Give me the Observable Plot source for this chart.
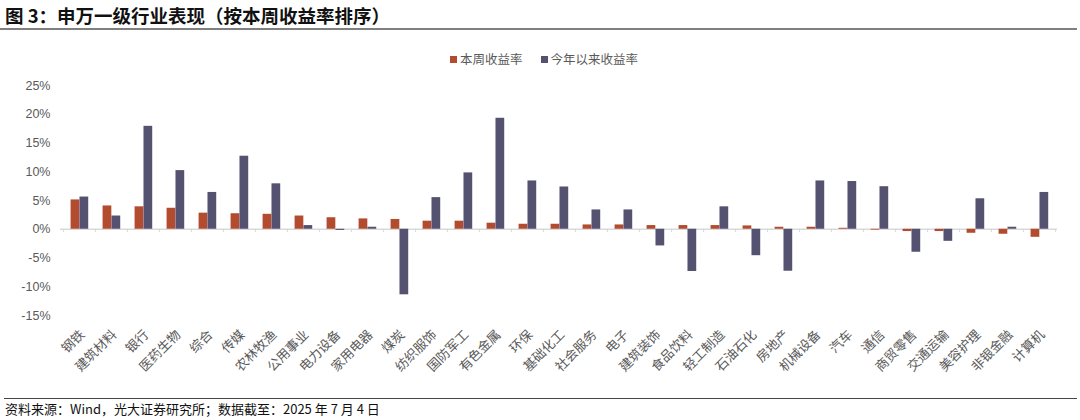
<!DOCTYPE html>
<html>
<head>
<meta charset="utf-8">
<script src="https://cdn.jsdelivr.net/npm/d3@7"></script>
<script src="https://cdn.jsdelivr.net/npm/@observablehq/plot@0.6"></script>
<style>
  html, body { margin: 0; padding: 0; background: #fff; }
  body { width: 1080px; height: 420px; overflow: hidden; font-family: "Liberation Sans", "Noto Sans CJK SC", sans-serif; }
  #title { height: 28px; line-height: 30px; padding-left: 5px; font-family: "Noto Sans CJK SC", sans-serif; font-weight: bold; font-size: 18.5px; color: #111; border-bottom: 2px solid #808080; margin: 0 3px 0 0; box-sizing: content-box; }
  #legend { height: 22px; padding-top: 20px; padding-left: 8px; line-height: 18px; text-align: center; font-family: "Noto Sans CJK SC", sans-serif; font-size: 12.5px; color: #595959; }
  #legend span.item { display: inline-block; margin: 0 9px; }
  #legend span.sw { display: inline-block; width: 7px; height: 7px; margin-right: 3px; vertical-align: 1px; }
  #chart { height: 326px; }
  #caption { border-top: 1.5px solid #444; margin: 0 3px 0 4px; padding-left: 1px; line-height: 20px; font-family: "Noto Sans CJK SC", sans-serif; font-size: 13px; color: #111; }
</style>
</head>
<body>
<div id="title">图 3：申万一级行业表现（按本周收益率排序）</div>
<div id="legend"></div>
<div id="chart"></div>
<div id="caption">资料来源：Wind，光大证券研究所；数据截至：2025 年 7 月 4 日</div>
<script>
const categories = ["钢铁","建筑材料","银行","医药生物","综合","传媒","农林牧渔","公用事业","电力设备","家用电器","煤炭","纺织服饰","国防军工","有色金属","环保","基础化工","社会服务","电子","建筑装饰","食品饮料","轻工制造","石油石化","房地产","机械设备","汽车","通信","商贸零售","交通运输","美容护理","非银金融","计算机"];
const weekReturn = [5.1,4.05,3.9,3.65,2.8,2.7,2.6,2.3,2.0,1.8,1.7,1.4,1.4,1.05,0.87,0.87,0.75,0.75,0.64,0.64,0.64,0.58,0.35,0.35,0.17,-0.15,-0.4,-0.4,-0.7,-0.87,-1.4];
const ytdReturn = [5.6,2.3,17.9,10.2,6.4,12.7,7.9,0.64,-0.2,0.35,-11.4,5.5,9.8,19.3,8.4,7.35,3.36,3.36,-2.9,-7.35,3.9,-4.6,-7.3,8.4,8.3,7.4,-4.0,-2.1,5.3,0.35,6.4];
const seriesNames = ["本周收益率","今年以来收益率"];
const seriesColors = ["#B34B2E","#555171"];
const yTicks = [-15,-10,-5,0,5,10,15,20,25];

const rows = categories.map((c, i) => ({cat: c, week: weekReturn[i], ytd: ytdReturn[i]}));

// legend
const lg = document.getElementById("legend");
seriesNames.forEach((n, i) => {
  const s = document.createElement("span");
  s.className = "item";
  s.innerHTML = `<span class="sw" style="background:${seriesColors[i]}"></span>${n}`;
  lg.appendChild(s);
});

const W = 1080, ML = 60, MR = 23;
const step = (W - ML - MR) / categories.length;
const barW = 8.9;
const outer = (step - 2 * barW) / 2 + 0.4;

const chart = Plot.plot({
  width: W,
  height: 326,
  marginLeft: ML,
  marginRight: MR,
  marginTop: 13,
  marginBottom: 83,
  style: {fontFamily: '"Liberation Sans", "Noto Sans CJK SC", sans-serif', fontSize: "12.5px", color: "#595959", background: "#fff"},
  x: {domain: categories, padding: 0, label: null},
  y: {domain: [-15, 25], label: null},
  marks: [
    Plot.ruleY([0], {stroke: "#d9d9d9", strokeWidth: 1.5}),
    Plot.ruleX(categories, {x: d => d, y1: 0, y2: -0.6, dx: -step / 2, stroke: "#d9d9d9", strokeWidth: 1}),
    Plot.ruleX(categories.slice(-1), {x: d => d, y1: 0, y2: -0.6, dx: step / 2, stroke: "#d9d9d9", strokeWidth: 1}),
    Plot.barY(rows, {x: "cat", y: "week", fill: seriesColors[0], insetLeft: outer, insetRight: step - outer - barW}),
    Plot.barY(rows, {x: "cat", y: "ytd", fill: seriesColors[1], insetLeft: outer + barW, insetRight: step - outer - 2 * barW}),
    Plot.axisY({ticks: yTicks, tickFormat: d => d + "%", tickSize: 0, tickPadding: 10, fontSize: 12.5}),
    Plot.axisX({tickSize: 0, tickPadding: 17, dx: 3, tickRotate: -45, fontSize: 13, label: null, fontFamily: '"Noto Sans CJK SC", sans-serif'})
  ]
});
document.getElementById("chart").appendChild(chart);
</script>
</body>
</html>
